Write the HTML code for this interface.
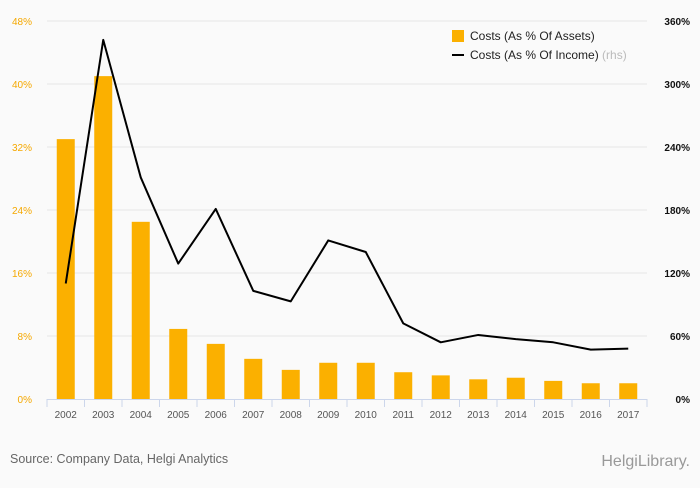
<!DOCTYPE html>
<html><head><meta charset="utf-8"><style>
body{margin:0;background:#fafafa;font-family:"Liberation Sans",sans-serif;}
#wrap{position:relative;width:700px;height:483px;background:#fafafa;}
svg text{font-family:"Liberation Sans",sans-serif;}
</style></head><body>
<div id="wrap">
<svg id="chart" width="700" height="483"></svg>
</div>
<script>
const years=["2002","2003","2004","2005","2006","2007","2008","2009","2010","2011","2012","2013","2014","2015","2016","2017"];
const assets=[33.0,41.0,22.5,8.9,7.0,5.1,3.7,4.6,4.6,3.4,3.0,2.5,2.7,2.3,2.0,2.0];
const income=[110,342,211,129,181,103,93,151,140,72,54,61,57,54,47,48];
const leftTicks=[0,8,16,24,32,40,48];
const rightTicks=[0,60,120,180,240,300,360];
const NS="http://www.w3.org/2000/svg";
const svg=document.getElementById('chart');
const x0=47,x1=647,yTop=21,yBot=399;
const step=(x1-x0)/years.length;
const xc=i=>x0+step*(i+0.5);
const yL=v=>yBot-(v/48)*(yBot-yTop);
const yR=v=>yBot-(v/360)*(yBot-yTop);
function mk(tag,attrs,txt){const e=document.createElementNS(NS,tag);for(const k in attrs)e.setAttribute(k,attrs[k]);if(txt!==undefined)e.textContent=txt;svg.appendChild(e);return e;}
leftTicks.forEach((t,i)=>{
  const y=yL(t);
  if(i>0){const g=mk('line',{x1:x0,x2:x1,y1:y,y2:y,stroke:'#e6e6e6','stroke-width':1});
  
  }
  const l=mk('text',{x:32,y:y+4,'text-anchor':'end','font-size':10,fill:'#f5a800'},t+'%');
  
  
});
rightTicks.forEach(t=>{
  const l=mk('text',{x:690,y:yR(t)+4,'text-anchor':'end','font-size':10,'font-weight':'bold',fill:'#111'},t+'%');
  
  
});
assets.forEach((v,i)=>{
  const b=mk('rect',{x:xc(i)-9,y:yL(v),width:18,height:yBot-yL(v),fill:'#fbb000'});
  
  
});
const ax=mk('line',{x1:x0,x2:x1,y1:yBot+0.5,y2:yBot+0.5,stroke:'#ccd6eb'});


for(let i=0;i<=years.length;i++){
  const tx=x0+step*i;
  const t=mk('line',{x1:tx,x2:tx,y1:yBot,y2:yBot+8,stroke:'#ccd6eb'});
  
  
}
years.forEach((yr,i)=>{
  const l=mk('text',{x:xc(i),y:418,'text-anchor':'middle','font-size':10,fill:'#555'},yr);
  
  
});
const pts=income.map((v,i)=>xc(i)+','+yR(v)).join(' ');
const ln=mk('polyline',{points:pts,fill:'none',stroke:'#000','stroke-width':2,'stroke-linejoin':'round'});


const lg1=mk('rect',{x:452,y:30,width:12,height:12,fill:'#fbb000'});


const lt1=mk('text',{x:470,y:40,'font-size':12,fill:'#222'},'Costs (As % Of Assets)');


const lg2=mk('line',{x1:452,x2:464,y1:55,y2:55,stroke:'#000','stroke-width':2});


const lt2=mk('text',{x:470,y:59,'font-size':12,fill:'#222'},'Costs (As % Of Income) ');


const ts=document.createElementNS(NS,'tspan');ts.setAttribute('fill','#bbb');ts.textContent='(rhs)';lt2.appendChild(ts);
const src=mk('text',{x:10,y:463,'font-size':12.5,fill:'#666'},'Source: Company Data, Helgi Analytics');


const logo=mk('text',{x:690,y:466,'text-anchor':'end','font-size':16,fill:'#999','font-family':'Liberation Serif'},'HelgiLibrary.');


</script>
</body></html>
